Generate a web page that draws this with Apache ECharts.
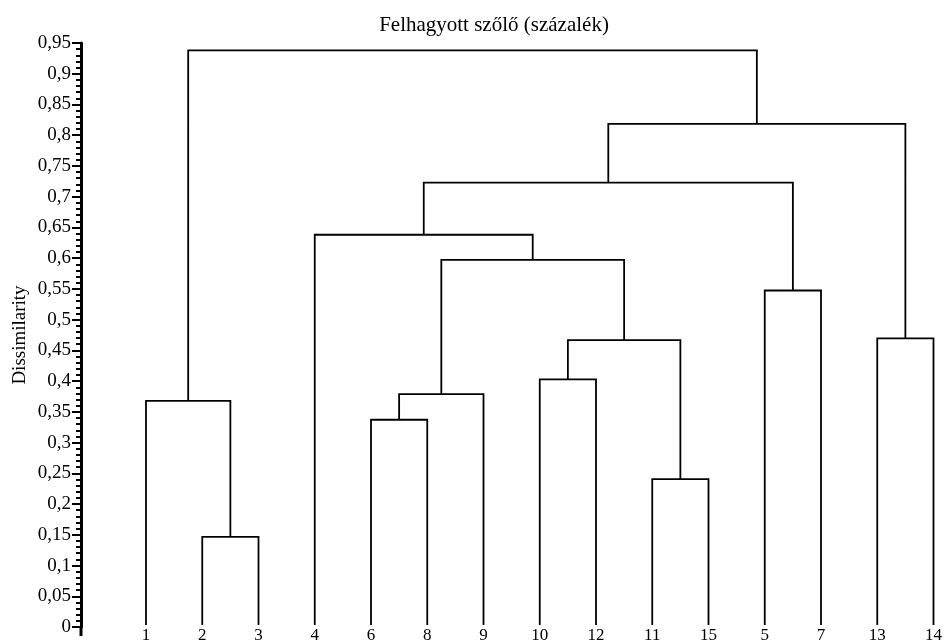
<!DOCTYPE html>
<html>
<head>
<meta charset="utf-8">
<script src="https://cdn.jsdelivr.net/npm/echarts@6/dist/echarts.min.js"></script>
<style>
html,body{margin:0;padding:0;background:#fff;}
#main{width:945px;height:644px;}
</style>
</head>
<body>
<div id="main"></div>
<script>
// Leaf order along the x axis
var leafLabels = ['1','2','3','4','6','8','9','10','12','11','15','5','7','13','14'];
// Linkage: children (0..14 = leaves, 15+ = earlier merges) and merge heights
var mergeLeft  = [1, 9, 4, 0, 17, 7, 20, 13, 11, 19, 3, 25, 26, 18];
var mergeRight = [2, 10, 5, 15, 6, 8, 16, 14, 12, 21, 24, 23, 22, 27];
var mergeHeight = [0.144, 0.238, 0.335, 0.366, 0.377, 0.401, 0.465, 0.468, 0.546, 0.596, 0.637, 0.722, 0.818, 0.938];
var yTicks = [0, 0.95, 0.05];

var n = leafLabels.length;
var nodeX = [], nodeH = [];
for (var i = 0; i < n; i++) { nodeX.push(i); nodeH.push(0); }
var segs = [];
for (var k = 0; k < mergeHeight.length; k++) {
  var a = mergeLeft[k], b = mergeRight[k], h = mergeHeight[k];
  segs.push({coords: [[nodeX[a], nodeH[a]], [nodeX[a], h], [nodeX[b], h], [nodeX[b], nodeH[b]]]});
  nodeX.push((nodeX[a] + nodeX[b]) / 2);
  nodeH.push(h);
}

var serif = '"Liberation Serif","DejaVu Serif",serif';
var chart = echarts.init(document.getElementById('main'), null, {renderer: 'canvas'});
chart.setOption({
  animation: false,
  backgroundColor: '#fff',
  title: {
    text: 'Felhagyott szőlő (százalék)',
    left: 489, top: 10, textAlign: 'center',
    textStyle: {fontFamily: serif, fontSize: 21, fontWeight: 'normal', color: '#000'}
  },
  grid: [
    {left: 81, width: 1, top: 43, bottom: 17, containLabel: false},
    {left: 146, right: 10, top: 43, bottom: 17, containLabel: false}
  ],
  xAxis: [{
    gridIndex: 0, type: 'value', min: 0, max: 1, show: false
  }, {
    gridIndex: 1, type: 'value', min: 0, max: n - 1, interval: 1,
    axisLine: {show: false}, axisTick: {show: false}, splitLine: {show: false},
    axisLabel: {
      show: true, margin: 2, verticalAlign: 'top',
      fontFamily: serif, fontSize: 17, color: '#000',
      formatter: function (v) { return leafLabels[Math.round(v)] || ''; }
    }
  }],
  yAxis: [{
    gridIndex: 0, type: 'value', min: yTicks[0], max: yTicks[1], interval: yTicks[2],
    name: 'Dissimilarity', nameLocation: 'middle', nameRotate: 90, nameGap: 51,
    nameTextStyle: {fontFamily: serif, fontSize: 19, color: '#000'},
    axisLine: {show: true, lineStyle: {color: '#000', width: 3}},
    axisTick: {show: true, inside: false, length: 9, lineStyle: {color: '#000', width: 2}},
    minorTick: {show: true, splitNumber: 5, length: 5, lineStyle: {color: '#000', width: 2}},
    splitLine: {show: false},
    axisLabel: {
      margin: 10, fontFamily: serif, fontSize: 19, color: '#000',
      formatter: function (v) { return String(Math.round(v * 100) / 100).replace('.', ','); }
    }
  }, {
    gridIndex: 1, type: 'value', min: yTicks[0], max: yTicks[1], show: false
  }],
  series: [{
    type: 'lines', coordinateSystem: 'cartesian2d', xAxisIndex: 1, yAxisIndex: 1,
    polyline: true, silent: true,
    lineStyle: {color: '#000', width: 1.8, opacity: 1},
    data: segs
  }]
});
var p0 = chart.convertToPixel({xAxisIndex: 0, yAxisIndex: 0}, [0, 0]);
chart.setOption({
  graphic: [{
    type: 'line', shape: {x1: p0[0], y1: p0[1], x2: p0[0], y2: p0[1] + 9},
    style: {stroke: '#000', lineWidth: 3}
  }]
});
</script>
</body>
</html>
